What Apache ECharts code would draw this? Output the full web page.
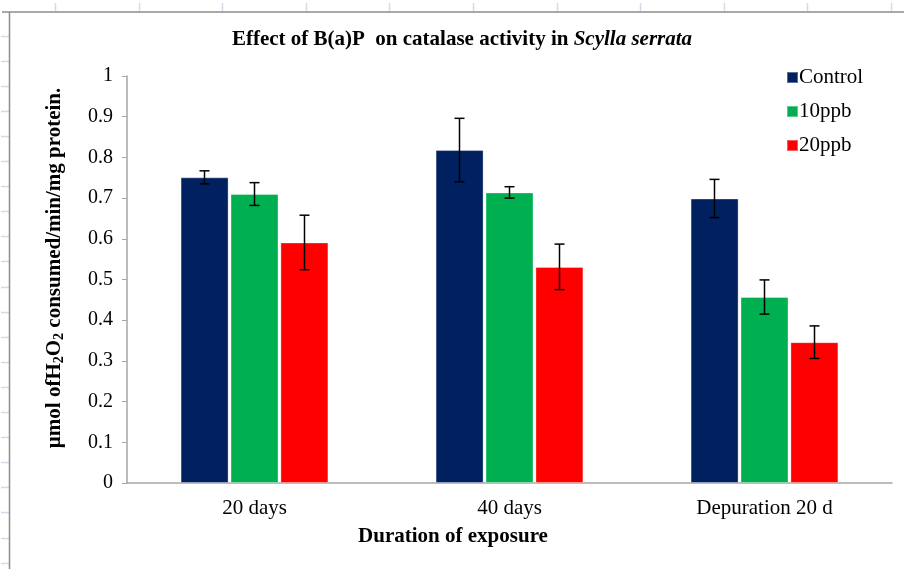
<!DOCTYPE html>
<html>
<head>
<meta charset="utf-8">
<script src="https://cdn.jsdelivr.net/npm/echarts@6/dist/echarts.min.js"></script>
<style>
html,body{margin:0;padding:0;background:#fff;}
#chart{width:904px;height:569px;}
</style>
</head>
<body>
<div id="chart"></div>
<script>
// ---- data ----
const categories = ['20 days', '40 days', 'Depuration 20 d'];
const seriesNames = ['Control', '10ppb', '20ppb'];
const controlMean = [0.751, 0.818, 0.699];
const controlErr  = [0.016, 0.078, 0.047];
const ppb10Mean   = [0.710, 0.714, 0.457];
const ppb10Err    = [0.028, 0.014, 0.042];
const ppb20Mean   = [0.591, 0.531, 0.346];
const ppb20Err    = [0.067, 0.056, 0.040];
const yTicks = [0, 0.1, 0.2, 0.3, 0.4, 0.5, 0.6, 0.7, 0.8, 0.9, 1];

const colors = ['#002060', '#00B050', '#FF0000'];
const means = [controlMean, ppb10Mean, ppb20Mean];
const errs = [controlErr, ppb10Err, ppb20Err];

const FONT = '"Liberation Serif", "Times New Roman", serif';
const BAR_W = 48;
const BAR_STEP = 50; // bar width + gap

const chart = echarts.init(document.getElementById('chart'), null, {renderer: 'canvas'});

const series = [];
means.forEach((m, i) => {
  series.push({
    name: seriesNames[i],
    type: 'bar',
    data: m,
    barWidth: BAR_W,
    barGap: '4%',
    itemStyle: {color: colors[i], borderColor: 'rgba(255,255,255,0.35)', borderWidth: 1},
    z: 2
  });
});
means.forEach((m, i) => {
  const offset = (i - 1) * BAR_STEP;
  series.push({
    name: seriesNames[i] + ' error',
    type: 'custom',
    data: m.map((v, k) => [k, v, errs[i][k]]),
    encode: {x: 0, y: 1},
    z: 5,
    renderItem: function (params, api) {
      const c = api.value(0), v = api.value(1), e = api.value(2);
      const top = api.coord([c, v + e]);
      const bot = api.coord([c, v - e]);
      const x = top[0] + offset;
      const hw = 5;
      const style = {stroke: '#000', lineWidth: 1.5};
      return {
        type: 'group',
        children: [
          {type: 'line', shape: {x1: x, y1: top[1], x2: x, y2: bot[1]}, style: style},
          {type: 'line', shape: {x1: x - hw, y1: top[1], x2: x + hw, y2: top[1]}, style: style},
          {type: 'line', shape: {x1: x - hw, y1: bot[1], x2: x + hw, y2: bot[1]}, style: style}
        ]
      };
    }
  });
});

// spreadsheet frame decorations
const graphics = [];
const markColor = '#d4dbe8';
for (let x = 55; x < 904; x += 83.6) {
  graphics.push({type: 'line', shape: {x1: Math.round(x) + 0.5, y1: 3, x2: Math.round(x) + 0.5, y2: 11}, style: {stroke: markColor, lineWidth: 1.5}, silent: true});
}
for (let y = 35.5; y < 569; y += 25.1) {
  graphics.push({type: 'line', shape: {x1: 1, y1: Math.round(y) + 0.5, x2: 9, y2: Math.round(y) + 0.5}, style: {stroke: markColor, lineWidth: 1.5}, silent: true});
}
graphics.push({type: 'line', shape: {x1: 2, y1: 12, x2: 904, y2: 12}, style: {stroke: '#8c8c8c', lineWidth: 1.5}, silent: true});
graphics.push({type: 'line', shape: {x1: 9.5, y1: 12, x2: 9.5, y2: 569}, style: {stroke: '#8c8c8c', lineWidth: 1.5}, silent: true});
graphics.push({
  type: 'text', x: 453, y: 537,
  style: {text: 'Duration of exposure', font: 'bold 21px ' + FONT, fill: '#000', textAlign: 'center', textVerticalAlign: 'middle'}
});
graphics.push({
  type: 'text', x: 55, y: 268, rotation: Math.PI / 2,
  style: {
    text: '{b|µmol ofH}{s|2}{b|O}{s|2}{b| consumed/min/mg protein.}',
    align: 'center', verticalAlign: 'middle',
    rich: {
      b: {fontFamily: FONT, fontSize: 21, fontWeight: 'bold', fill: '#000', lineHeight: 22},
      s: {fontFamily: FONT, fontSize: 14, fontWeight: 'bold', fill: '#000', lineHeight: 8, verticalAlign: 'bottom'}
    }
  }
});

const option = {
  backgroundColor: '#fff',
  animation: false,
  title: {
    text: '{n|Effect of B(a)P  on catalase activity in }{i|Scylla serrata}',
    left: 457, top: 24, textAlign: 'center',
    textStyle: {
      rich: {
        n: {fontFamily: FONT, fontSize: 21, fontWeight: 'bold', color: '#000'},
        i: {fontFamily: FONT, fontSize: 21, fontWeight: 'bold', fontStyle: 'italic', color: '#000'}
      }
    }
  },
  legend: {
    data: seriesNames,
    orient: 'vertical',
    left: 781, top: 62,
    itemWidth: 11, itemHeight: 11, itemGap: 13,
    icon: 'rect',
    textStyle: {fontFamily: FONT, fontSize: 21, color: '#000', padding: [0, 0, 0, -4]}
  },
  grid: {left: 127, right: 12, top: 76, bottom: 86, containLabel: false},
  xAxis: {
    type: 'category',
    data: categories,
    axisLine: {lineStyle: {color: '#a6a6a6', width: 1.5}},
    axisTick: {show: false},
    axisLabel: {fontFamily: FONT, fontSize: 21, color: '#000', margin: 15}
  },
  yAxis: {
    type: 'value',
    min: 0, max: 1, interval: 0.1,
    axisLine: {show: true, lineStyle: {color: '#a6a6a6', width: 1.5}},
    axisTick: {show: true, inside: false, length: 5, lineStyle: {color: '#a6a6a6'}},
    splitLine: {show: false},
    axisLabel: {
      fontFamily: FONT, fontSize: 20, color: '#000', margin: 14,
      formatter: function (v) {
        const t = yTicks.find(x => Math.abs(x - v) < 1e-9);
        return t === undefined ? '' : String(t);
      }
    }
  },
  graphic: graphics,
  series: series
};
chart.setOption(option);
</script>
</body>
</html>
